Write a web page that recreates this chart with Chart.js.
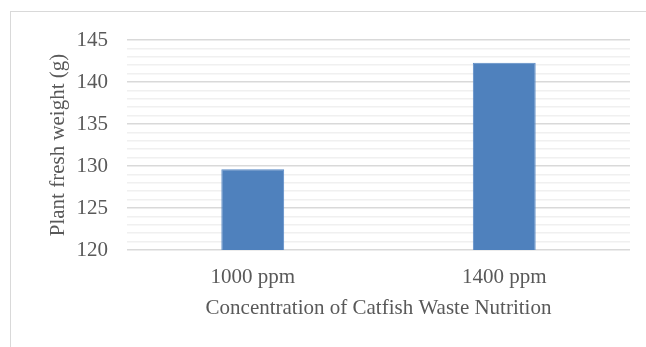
<!DOCTYPE html>
<html>
<head>
<meta charset="utf-8">
<script src="https://cdn.jsdelivr.net/npm/chart.js@4"></script>
<style>
  html, body { margin: 0; padding: 0; background: #fff; }
  #frame { position: absolute; left: 10px; top: 11px; width: 700px; height: 400px; border: 1px solid #d9d9d9; }
  #wrap { position: absolute; left: 0; top: 0; width: 646px; height: 347px; }
</style>
</head>
<body>
<div id="frame"></div>
<div id="wrap"><canvas id="chart"></canvas></div>
<script>
const categories = ['1000 ppm', '1400 ppm'];
const freshWeight = [129.6, 142.3];
const yMin = 120;
const yMax = 145;

const textColor = '#595959';
const serif = "'Liberation Serif', 'Times New Roman', serif";

new Chart(document.getElementById('chart'), {
    type: 'bar',
    data: {
        labels: categories,
        datasets: [{
            data: freshWeight,
            backgroundColor: '#4f81bd',
            borderColor: '#5a8ac6',
            borderWidth: 1,
            categoryPercentage: 1,
            barPercentage: 0.25
        }]
    },
    options: {
        responsive: true,
        maintainAspectRatio: false,
        animation: false,
        layout: { padding: { top: 40, right: 16, left: 0, bottom: 0 } },
        plugins: {
            legend: { display: false },
            tooltip: { enabled: false }
        },
        scales: {
            x: {
                afterFit: scale => { scale.height = 97; },
                grid: { display: false, drawTicks: false },
                border: { display: false },
                ticks: { color: textColor, font: { family: serif, size: 21 }, padding: 15 },
                title: {
                    display: true,
                    text: 'Concentration of Catfish Waste Nutrition',
                    color: textColor,
                    font: { family: serif, size: 21 },
                    padding: { top: 4, bottom: 26 }
                }
            },
            y: {
                min: yMin,
                max: yMax,
                afterFit: scale => { scale.width = 127; },
                border: { display: false },
                grid: {
                    drawTicks: false,
                    color: ctx => (ctx.tick && ctx.tick.value % 5 === 0) ? '#d9d9d9' : '#f0f0f0',
                    lineWidth: 1.5
                },
                ticks: {
                    stepSize: 1,
                    padding: 19,
                    autoSkip: false,
                    color: textColor,
                    font: { family: serif, size: 21 },
                    callback: v => (v % 5 === 0 ? v : '')
                },
                title: {
                    display: true,
                    text: 'Plant fresh weight (g)',
                    color: textColor,
                    font: { family: serif, size: 21 },
                    padding: { top: 46, bottom: 0 }
                }
            }
        }
    }
});
</script>
</body>
</html>
